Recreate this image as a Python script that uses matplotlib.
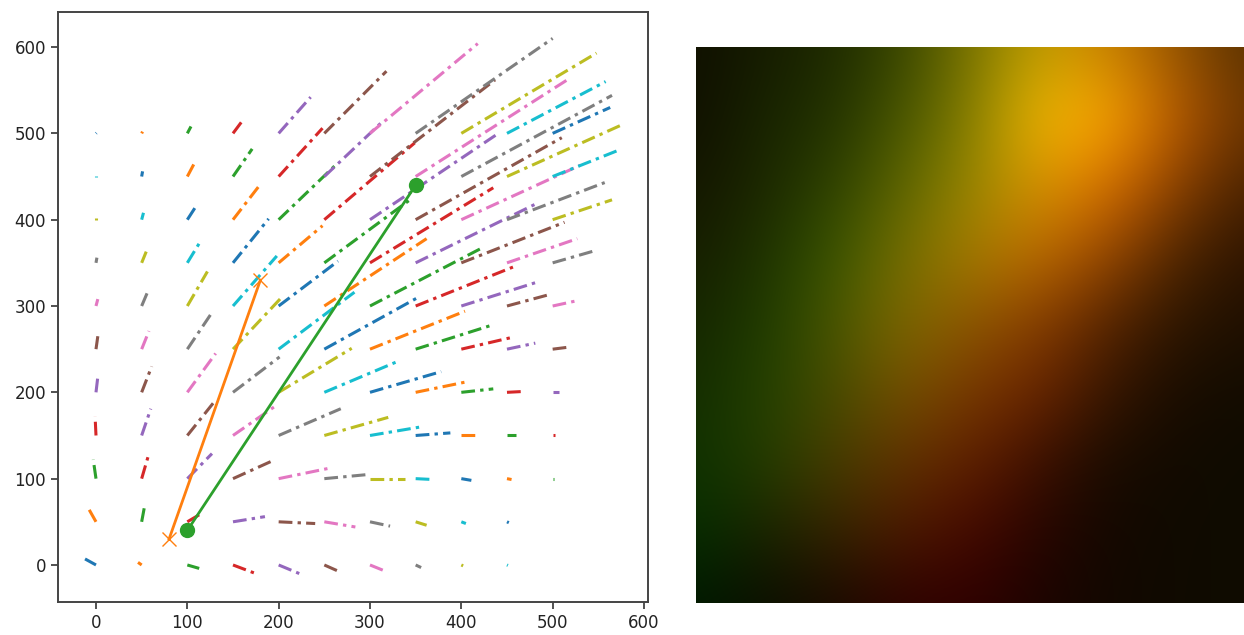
import numpy as np
import matplotlib
matplotlib.use('Agg')
import matplotlib.pyplot as plt

W, H = 1244, 635

# grid start points
grid_x = [0, 50, 100, 150, 200, 250, 300, 350, 400, 450, 500]
grid_y = [0, 50, 100, 150, 200, 250, 300, 350, 400, 450, 500]

# end points of the flow lines, one row per grid_y
end_x = [
    [-12, 46, 113, 175, 225, 267, 314, 356, 402, 451, 500.5],
    [-8, 53, 116, 185, 240, 284, 322, 362, 405, 452, 500.5],
    [-3, 58, 127, 196, 255, 300, 338, 369, 411, 455, 501],
    [-1, 60, 131, 199, 268, 320, 356, 388, 418, 460, 503],
    [2, 61, 131, 201, 280, 333, 378, 405, 435, 468, 507],
    [2, 58, 128, 205, 283, 351, 404, 434, 457, 481, 515],
    [2, 58, 122, 198, 265, 362, 424, 461, 484, 499, 526],
    [1, 55, 115, 189, 248, 345, 435, 483, 513, 527, 546],
    [0, 52, 111, 180, 263, 349, 442, 510, 530, 557, 565],
    [0, 51, 107, 171, 248, 315, 437, 519, 565, 576, 571],
    [0.5, 51, 104, 162, 235, 318, 418, 500, 548, 558, 563],
]
end_y = [
    [7, 3, -4, -10, -11, -8, -6, -3, -1, -0.5, 0],
    [65, 67, 60, 56, 48, 44, 45, 46, 48, 49, 50],
    [122, 129, 129, 122, 112, 105, 100, 99, 98, 99, 100],
    [172, 181, 191, 186, 181, 171, 160, 153, 150, 150, 150],
    [218, 230, 245, 241, 251, 237, 224, 212, 204, 201, 200],
    [265, 271, 294, 312, 316, 309, 294, 278, 264, 257, 252],
    [308, 320, 340, 358, 352, 378, 368, 347, 328, 314, 306],
    [356, 363, 376, 401, 393, 424, 437, 419, 397, 378, 364],
    [402, 408, 418, 441, 464, 489, 501, 495, 463, 443, 423],
    [451, 456, 464, 482, 506, 515, 562, 564, 544, 510, 480],
    [500.5, 502, 508, 517, 542, 572, 604, 610, 593, 560, 530],
]

# the two solid tracks
track_orange_x = [80, 180]
track_orange_y = [30, 330]
track_green_x = [100, 350]
track_green_y = [40, 440]

# colours of the right picture, read on a coarse grid (top row first)
img_red = [
    [16, 22, 30, 55, 120, 190, 205, 150, 90],
    [16, 24, 34, 70, 130, 240, 255, 190, 110],
    [20, 28, 45, 90, 150, 215, 220, 140, 75],
    [22, 30, 55, 115, 165, 190, 150, 80, 45],
    [22, 30, 70, 125, 140, 135, 85, 45, 30],
    [20, 35, 70, 115, 120, 105, 55, 25, 18],
    [15, 35, 70, 95, 95, 60, 25, 18, 15],
    [5, 25, 50, 75, 70, 40, 20, 16, 15],
    [0, 10, 25, 45, 48, 28, 18, 16, 15],
]
img_green = [
    [16, 28, 42, 70, 115, 160, 130, 85, 50],
    [16, 36, 50, 85, 125, 185, 170, 90, 55],
    [22, 40, 65, 100, 135, 150, 110, 65, 35],
    [30, 50, 85, 110, 125, 105, 70, 38, 20],
    [38, 60, 85, 105, 85, 60, 35, 22, 15],
    [45, 65, 75, 80, 55, 35, 22, 12, 12],
    [50, 60, 60, 50, 30, 15, 12, 10, 12],
    [45, 35, 35, 25, 8, 5, 8, 10, 12],
    [25, 15, 10, 2, 0, 4, 8, 10, 12],
]

fig = plt.figure(figsize=(W / 100, H / 100), dpi=100)

# left axes
ax = fig.add_axes([58 / W, 1 - 602 / H, 590 / W, 590 / H])
for i, yy in enumerate(grid_y):
    for j, xx in enumerate(grid_x):
        ax.plot([xx, end_x[i][j]], [yy, end_y[i][j]], lw=2.2,
                linestyle=(0, (4.5, 1.7, 1.1, 1.7)))

ax.plot(track_orange_x, track_orange_y, '-', color='C1', lw=2, marker='x', ms=10)
ax.plot(track_green_x, track_green_y, '-', color='C2', lw=2, marker='o', ms=10)

ax.set_xlim(-41.6, 604.4)
ax.set_ylim(-42.9, 640.6)
ax.set_xticks([0, 100, 200, 300, 400, 500, 600])
ax.set_yticks([0, 100, 200, 300, 400, 500, 600])
ax.tick_params(labelsize=12, length=5, width=1.2, color='#333333', labelcolor='#222222')
for s in ax.spines.values():
    s.set_linewidth(1.4)
    s.set_color('#444444')

# right picture, limits cut so the samples sit on the picture edges
rgb = np.dstack([img_red, img_green, np.zeros((9, 9), dtype=int)]).astype(np.uint8)
ax2 = fig.add_axes([696 / W, 1 - 603 / H, 548 / W, 556 / H])
ax2.imshow(rgb, interpolation='bicubic', aspect='auto')
ax2.set_xlim(0, 8)
ax2.set_ylim(8, 0)
ax2.axis('off')

fig.savefig('out.png', dpi=100)
